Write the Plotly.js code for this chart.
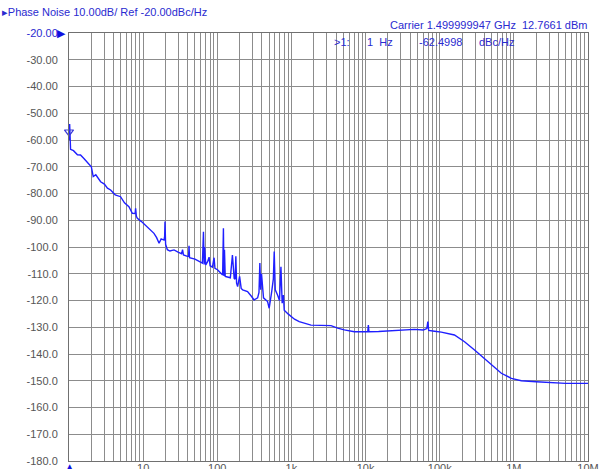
<!DOCTYPE html>
<html>
<head>
<meta charset="utf-8">
<script src="https://cdn.plot.ly/plotly-3.0.1.min.js"></script>
<style>html,body{margin:0;padding:0;background:#fff;}#chart{width:601px;height:469px;}</style>
</head>
<body>
<div id="chart"></div>
<script>
// Offset frequency (Hz) and phase noise (dBc/Hz)
const freqHz = [1, 1.02, 1.05, 1.15, 1.3, 1.43, 1.6, 1.8, 2.0, 2.06, 2.12, 2.3, 2.67, 3.0, 3.3, 3.64, 4.2, 4.96, 5.6, 6.43, 7.15, 7.8, 7.92, 8.1, 8.35, 9.5,
  11.4, 12.5, 14.0, 15.2, 16.4, 17.5, 19.1, 19.5, 19.7, 20.1, 21.2, 23, 26.1, 30, 33, 34, 35, 39.6, 41, 41.6, 42.2, 50, 59.8, 63, 65.1, 66.5, 67.5, 69.9, 74, 77.5, 80, 86, 90.5, 93,
  100.7, 110, 118, 121, 123, 125, 128, 137, 150, 160, 169, 174, 178, 182, 188, 200, 210, 220, 256, 290, 314, 350, 365, 375, 385, 395, 405, 420, 477, 501, 540, 570, 586, 605, 652, 690, 722, 750, 780, 800, 900, 985,
  1100, 1274, 1500, 1835, 2500, 3420, 4200, 5170, 7060, 9000, 10700, 10900, 11100, 15000, 22100, 30000, 45600, 60000, 67000, 69200, 71000, 85100,
  105000, 158000, 216000, 295000, 448000, 678000, 925000, 1.26e6, 2e6, 2.9e6, 3.55e6, 5e6, 1e7];
const noiseDbc = [-60, -54, -63.5, -64, -65.5, -65.6, -67, -68.7, -70, -71.8, -73.7, -73, -75.6, -76.5, -78, -78.7, -80.5, -81.2, -83.5, -84.9, -87.4, -87.5, -85.5, -88.5, -89.3, -90.5,
  -92.4, -93.5, -94.9, -96.5, -98.6, -97, -97.4, -96, -90.5, -99, -101, -101.5, -101.1, -102, -102.5, -101, -103, -103.5, -103.5, -99.5, -104, -104.5, -105.5, -106, -94.3, -106.5, -100, -106.7, -105.5, -103.8, -107, -107.5, -104, -108,
  -108.5, -109.5, -110.5, -93, -110.8, -101, -111, -111.2, -111.5, -103, -111.7, -112, -103.5, -113.5, -114.8, -111, -115.5, -116, -116.7, -118.5, -119.8, -119, -117, -106, -116, -110, -115, -119, -120.4, -122.9, -117, -112, -101.7, -116, -118, -120, -107.4, -121, -118, -123.6, -125, -126,
  -127, -127.9, -128.5, -129.2, -129.3, -129.4, -130.3, -131, -131.7, -131.8, -131.7, -129.2, -131.7, -131.6, -131.3, -131.2, -130.8, -131, -130.5, -127.9, -131.2, -131.5,
  -131.8, -132.9, -135.4, -138.5, -142.9, -147.2, -149.1, -150, -150.4, -150.7, -150.9, -151, -151];

// Marker 1 position
const markerFreq = [1];
const markerVal = [-57];

// Axis ticks
const xTickVals = [10, 100, 1e3, 1e4, 1e5, 1e6, 1e7];
const xTickText = ['10', '100', '1k', '10k', '100k', '1M', '10M'];
const yTickVals = [-20, -30, -40, -50, -60, -70, -80, -90, -100, -110, -120, -130, -140, -150, -160, -170, -180];
const yTickText = ['<span style="color:#2a2ad0">-20.00</span>', '-30.00', '-40.00', '-50.00', '-60.00', '-70.00', '-80.00', '-90.00', '-100.0', '-110.0', '-120.0', '-130.0', '-140.0', '-150.0', '-160.0', '-170.0', '-180.0'];

const FONT = 'Liberation Sans, Arial, sans-serif';
const BLUE = '#2a2ad0';
const GRID = '#8c8c8c';

const traces = [
  {
    x: freqHz, y: noiseDbc, type: 'scatter', mode: 'lines',
    line: {color: '#1f1fff', width: 1.4},
    hoverinfo: 'skip', showlegend: false
  },
  {
    x: markerFreq, y: markerVal, type: 'scatter', mode: 'markers',
    marker: {symbol: 'triangle-down-open', size: 8, color: '#3a3ad8', line: {width: 1.2}},
    cliponaxis: false, hoverinfo: 'skip', showlegend: false
  }
];

const layout = {
  width: 601, height: 469,
  margin: {l: 69, r: 13, t: 33, b: 8, pad: 0},
  paper_bgcolor: '#ffffff', plot_bgcolor: '#ffffff',
  showlegend: false,
  title: {
    text: '▸Phase Noise 10.00dB/ Ref -20.00dBc/Hz',
    font: {family: FONT, size: 11, color: BLUE},
    x: 0.003, xanchor: 'left', xref: 'container',
    y: 0.975, yanchor: 'middle', yref: 'container'
  },
  xaxis: {
    type: 'log', range: [0, 7],
    tickvals: xTickVals, ticktext: xTickText,
    showgrid: true, gridcolor: GRID, gridwidth: 1,
    minor: {dtick: 'D1', showgrid: true, gridcolor: GRID, gridwidth: 1, ticks: ''},
    showline: true, linecolor: '#707070', linewidth: 1, mirror: true,
    ticks: '', zeroline: false, ticklabelstandoff: -3,
    tickfont: {family: FONT, size: 11, color: '#555555'}
  },
  yaxis: {
    range: [-180, -20],
    tickvals: yTickVals, ticktext: yTickText,
    showgrid: true, gridcolor: GRID, gridwidth: 1,
    showline: true, linecolor: '#707070', linewidth: 1, mirror: true,
    ticks: '', zeroline: false, ticklabelstandoff: 8,
    tickfont: {family: FONT, size: 11, color: '#555555'}
  },
  annotations: [
    {xref: 'paper', yref: 'paper', x: 0.615, y: 1.018, xanchor: 'left', yanchor: 'middle', showarrow: false,
     text: 'Carrier 1.499999947 GHz', font: {family: FONT, size: 11, color: BLUE}},
    {xref: 'paper', yref: 'paper', x: 1.002, y: 1.018, xanchor: 'right', yanchor: 'middle', showarrow: false,
     text: '12.7661 dBm', font: {family: FONT, size: 11, color: BLUE}},
    {xref: 'paper', yref: 'paper', x: 0.507, y: 0.979, xanchor: 'left', yanchor: 'middle', showarrow: false,
     text: '>1:', font: {family: FONT, size: 11, color: BLUE}},
    {xref: 'paper', yref: 'paper', x: 0.570, y: 0.979, xanchor: 'left', yanchor: 'middle', showarrow: false,
     text: '1  Hz', font: {family: FONT, size: 11, color: BLUE}},
    {xref: 'paper', yref: 'paper', x: 0.670, y: 0.979, xanchor: 'left', yanchor: 'middle', showarrow: false,
     text: '-62.4998', font: {family: FONT, size: 11, color: BLUE}},
    {xref: 'paper', yref: 'paper', x: 0.786, y: 0.979, xanchor: 'left', yanchor: 'middle', showarrow: false,
     text: 'dBc/Hz', font: {family: FONT, size: 11, color: BLUE}},
    {xref: 'paper', yref: 'paper', x: 0, y: 1, xanchor: 'right', yanchor: 'middle', xshift: -1, showarrow: false,
     text: '▶', font: {family: 'DejaVu Sans', size: 11, color: '#1010e0'}},
    {xref: 'paper', yref: 'paper', x: 0, y: 0, xanchor: 'center', yanchor: 'top', yshift: 2, xshift: 1, showarrow: false,
     text: '▲', font: {family: 'DejaVu Sans', size: 12, color: '#1010e0'}}
  ]
};

Plotly.newPlot('chart', traces, layout, {displayModeBar: false, staticPlot: true});
</script>
</body>
</html>
